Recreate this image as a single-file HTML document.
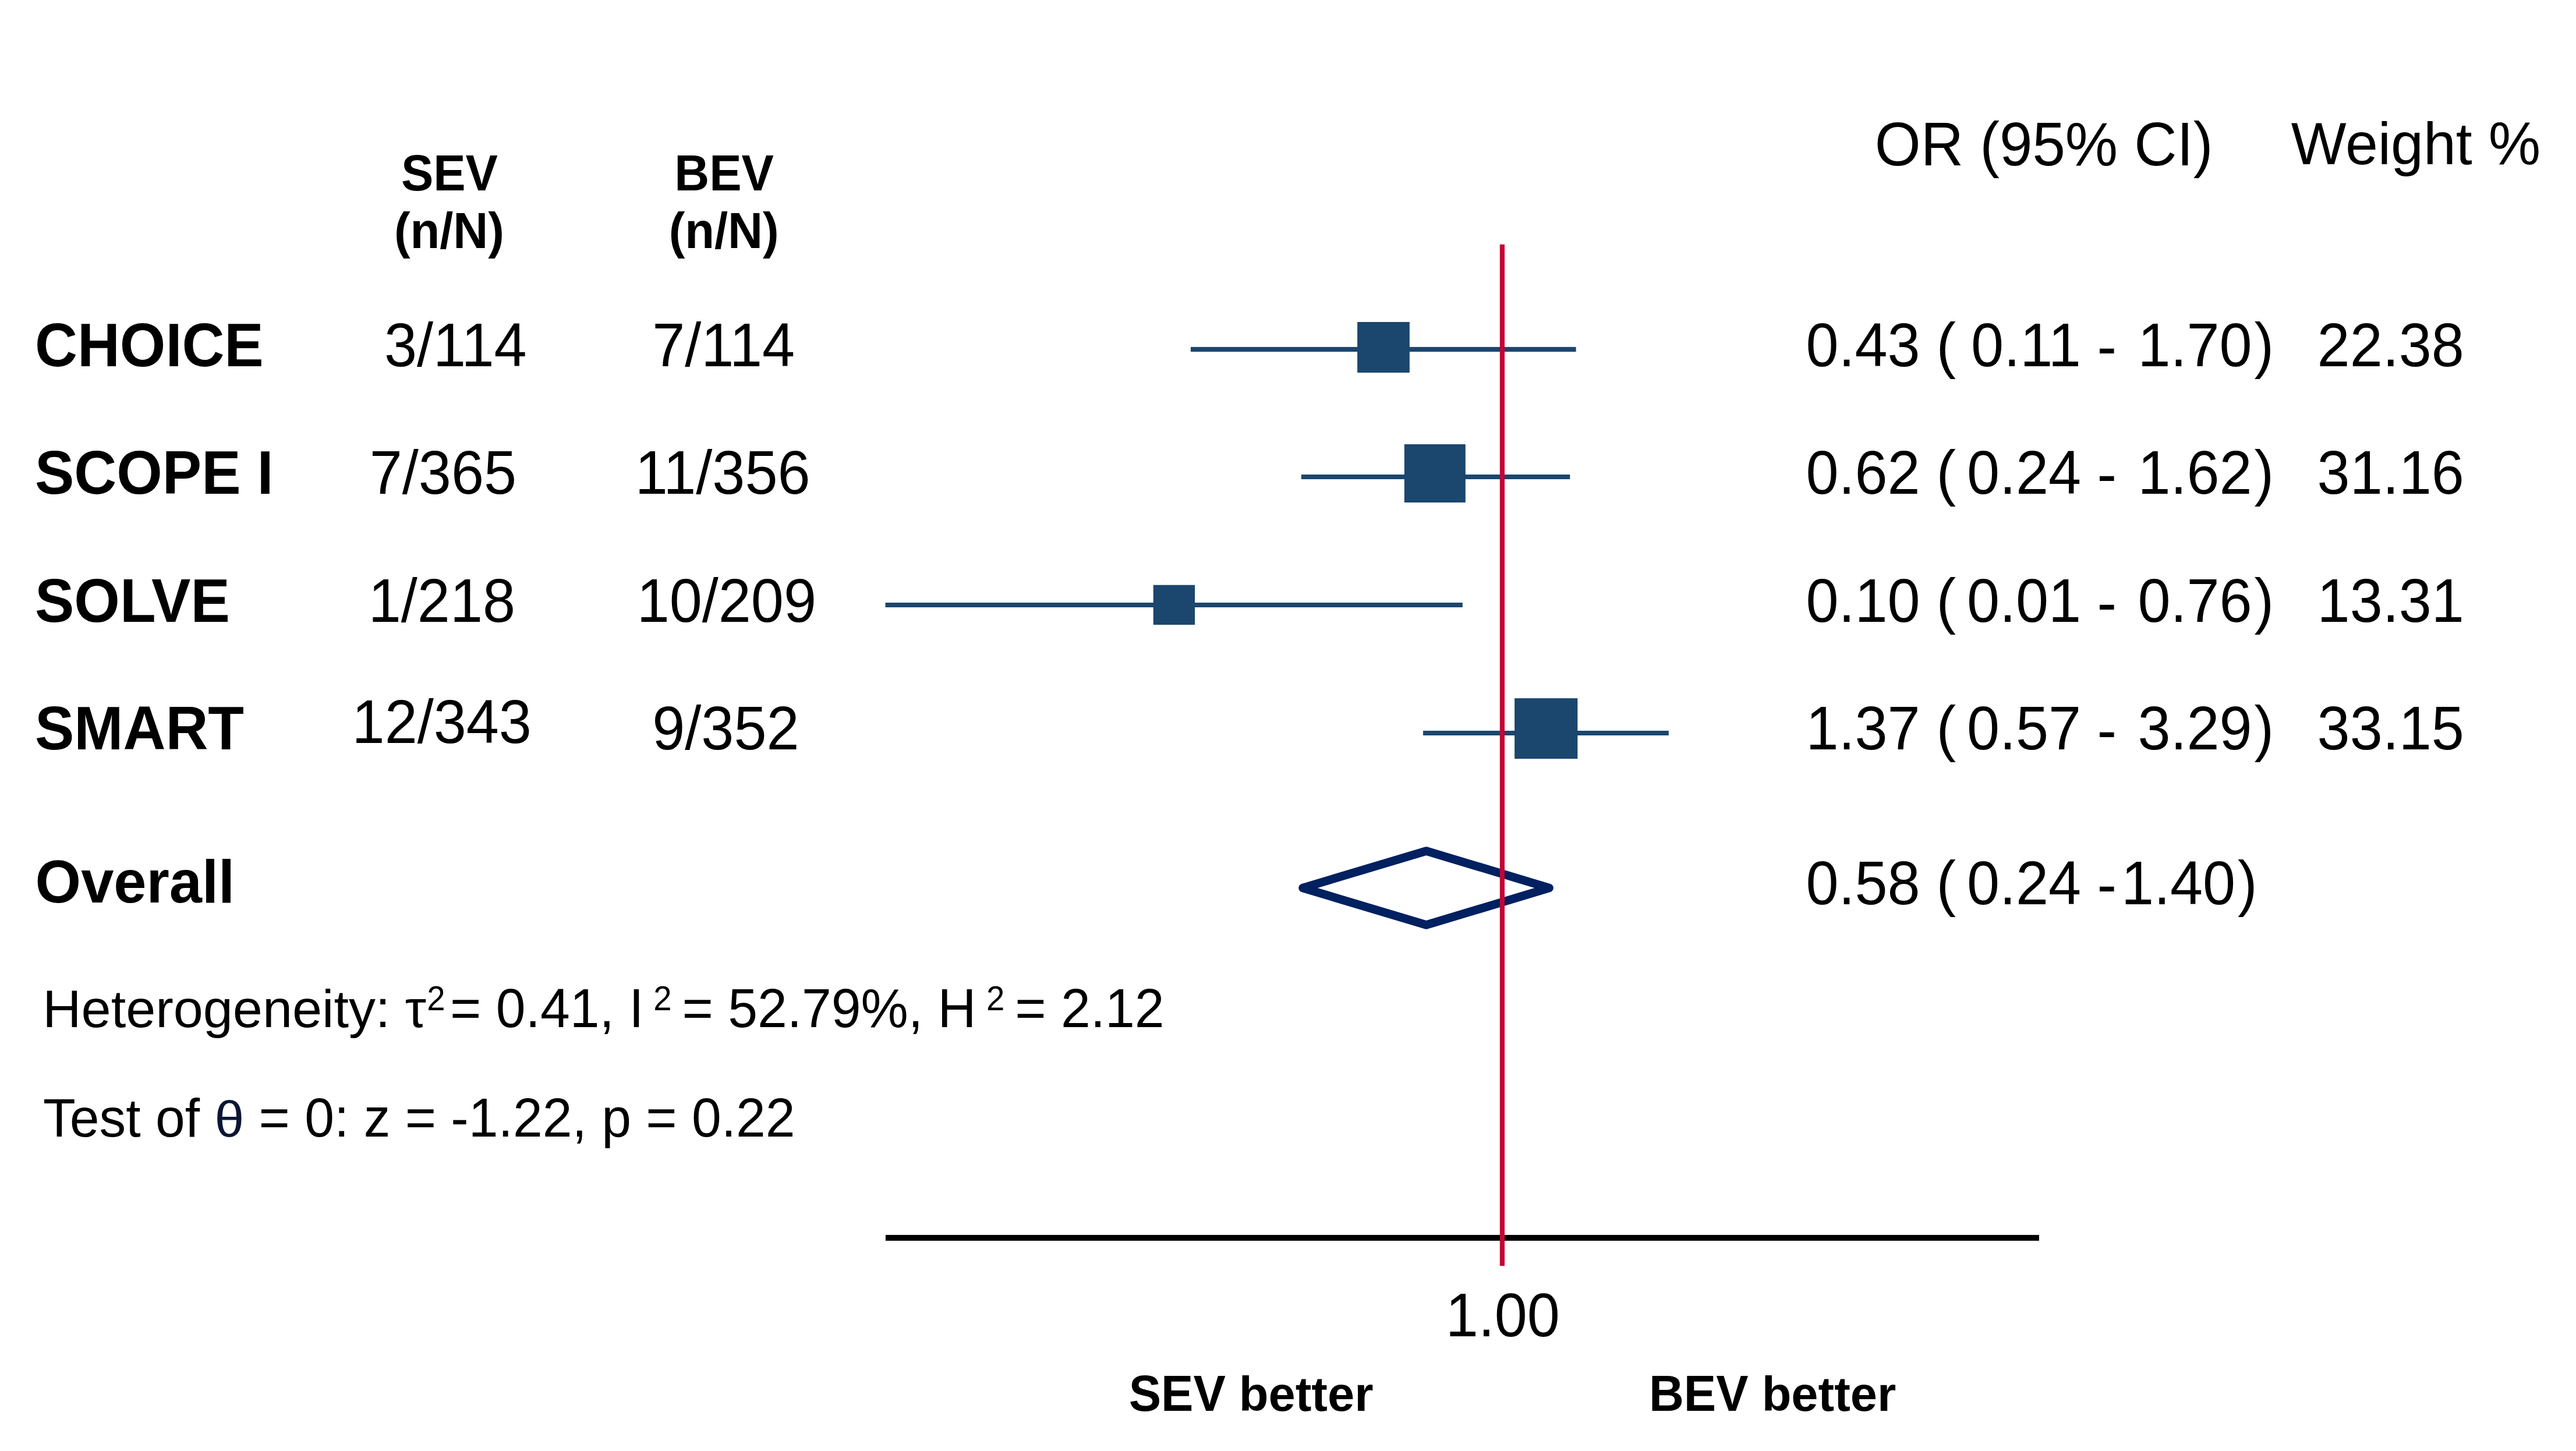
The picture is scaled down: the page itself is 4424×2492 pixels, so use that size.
<!DOCTYPE html>
<html lang="en">
<head>
<meta charset="utf-8">
<title>Forest plot: SEV vs BEV</title>
<style>
html,body{margin:0;padding:0;background:#fff;}
body{width:4424px;height:2492px;overflow:hidden;}
svg{display:block;}
text{font-family:"Liberation Sans",Arial,Helvetica,sans-serif;white-space:pre;fill:#000;}
</style>
</head>
<body>
<svg width="4424" height="2492" viewBox="0 0 4424 2492">
<rect x="0" y="0" width="4424" height="2492" fill="#ffffff"/>
<!-- confidence intervals and study weights -->
<rect x="2044.9" y="595.9" width="661.7" height="8.2" fill="#1b466e"/>
<rect x="2331.1" y="553.0" width="89.7" height="87.0" fill="#1b466e"/>
<rect x="2234.8" y="815.0" width="461.5" height="8.0" fill="#1b466e"/>
<rect x="2411.8" y="763.0" width="105.0" height="100.0" fill="#1b466e"/>
<rect x="1520.5" y="1035.0" width="991.3" height="8.0" fill="#1b466e"/>
<rect x="1980.7" y="1004.7" width="71.3" height="68.3" fill="#1b466e"/>
<rect x="2444.0" y="1255.0" width="421.8" height="8.0" fill="#1b466e"/>
<rect x="2601.1" y="1199.2" width="108.2" height="104.0" fill="#1b466e"/>
<!-- pooled estimate diamond -->
<polygon points="2237.5,1525 2449.5,1461.5 2660.5,1525 2449.5,1588.5" fill="none" stroke="#002060" stroke-width="14.6" stroke-linejoin="round"/>
<!-- axis and line of no effect -->
<rect x="1520.9" y="2120.9" width="1981" height="10" fill="#000"/>
<rect x="2575.8" y="419.8" width="8.2" height="1754.3" fill="#c30532"/>
<!-- text -->
<text transform="translate(688.89,327.3) scale(1,1.04)" font-size="83" font-weight="bold" xml:space="preserve">SEV</text>
<text transform="translate(676.93,426) scale(1,1.04)" font-size="83" font-weight="bold" xml:space="preserve">(n/N)</text>
<text transform="translate(1158.35,327.3) scale(1,1.04)" font-size="83" font-weight="bold" xml:space="preserve">BEV</text>
<text transform="translate(1148.68,426) scale(1,1.04)" font-size="83" font-weight="bold" xml:space="preserve">(n/N)</text>
<text transform="translate(3219.75,283.9) scale(1,1.04)" font-size="101.5" xml:space="preserve">OR (95% CI)</text>
<text transform="translate(3934.85,281.9) scale(1,1.02)" font-size="100.5" xml:space="preserve">Weight </text>
<text transform="translate(4273.74,281.9) scale(1,1.04)" font-size="100.5" xml:space="preserve">%</text>
<text transform="translate(60,628.8) scale(1,1.04)" font-size="101" font-weight="bold" xml:space="preserve">CHOICE</text>
<text transform="translate(60,848.3) scale(1,1.04)" font-size="101" font-weight="bold" xml:space="preserve">SCOPE I</text>
<text transform="translate(60,1068.3) scale(1,1.04)" font-size="101" font-weight="bold" xml:space="preserve">SOLVE</text>
<text transform="translate(60,1287.0) scale(1,1.04)" font-size="101" font-weight="bold" xml:space="preserve">SMART</text>
<text transform="translate(60.6,1549.5) scale(1,1.02)" font-size="101" font-weight="bold" xml:space="preserve">Overall</text>
<text transform="translate(659.9,628.8) scale(1,1.04)" font-size="100.8" xml:space="preserve">3/114</text>
<text transform="translate(1120.3,628.8) scale(1,1.04)" font-size="100.8" xml:space="preserve">7/114</text>
<text transform="translate(634.8,848.3) scale(1,1.04)" font-size="100.8" xml:space="preserve">7/365</text>
<text transform="translate(1090.7,848.3) scale(1,1.04)" font-size="100.8" xml:space="preserve">11/356</text>
<text transform="translate(632.8,1068.3) scale(1,1.04)" font-size="100.8" xml:space="preserve">1/218</text>
<text transform="translate(1093.7,1068.3) scale(1,1.04)" font-size="100.8" xml:space="preserve">10/209</text>
<text transform="translate(604.6,1276) scale(1,1.04)" font-size="100.8" xml:space="preserve">12/343</text>
<text transform="translate(1120.3,1286.8) scale(1,1.04)" font-size="100.8" xml:space="preserve">9/352</text>
<text transform="translate(3101.4,628.8) scale(1,1.04)" font-size="100.8" xml:space="preserve">0.43 (</text>
<text transform="translate(3385.1,628.8) scale(1,1.04)" font-size="100.8" xml:space="preserve">0.11</text>
<text transform="translate(3601.6,631.0999999999999) scale(1,1.04)" font-size="100.8" xml:space="preserve">-</text>
<text transform="translate(3671.5,628.8) scale(1,1.04)" font-size="100.8" xml:space="preserve">1.70</text>
<text transform="translate(3871.48,628.8) scale(1,1.04)" font-size="100.8" xml:space="preserve">)</text>
<text transform="translate(3979.6,628.8) scale(1,1.04)" font-size="100.8" xml:space="preserve">22.38</text>
<text transform="translate(3101.4,848.0) scale(1,1.04)" font-size="100.8" xml:space="preserve">0.62 (</text>
<text transform="translate(3377.9,848.0) scale(1,1.04)" font-size="100.8" xml:space="preserve">0.24</text>
<text transform="translate(3601.6,850.3) scale(1,1.04)" font-size="100.8" xml:space="preserve">-</text>
<text transform="translate(3671.5,848.0) scale(1,1.04)" font-size="100.8" xml:space="preserve">1.62</text>
<text transform="translate(3871.48,848.0) scale(1,1.04)" font-size="100.8" xml:space="preserve">)</text>
<text transform="translate(3979.6,848.0) scale(1,1.04)" font-size="100.8" xml:space="preserve">31.16</text>
<text transform="translate(3101.4,1068.2) scale(1,1.04)" font-size="100.8" xml:space="preserve">0.10 (</text>
<text transform="translate(3377.9,1068.2) scale(1,1.04)" font-size="100.8" xml:space="preserve">0.01</text>
<text transform="translate(3601.6,1070.5) scale(1,1.04)" font-size="100.8" xml:space="preserve">-</text>
<text transform="translate(3671.5,1068.2) scale(1,1.04)" font-size="100.8" xml:space="preserve">0.76</text>
<text transform="translate(3871.48,1068.2) scale(1,1.04)" font-size="100.8" xml:space="preserve">)</text>
<text transform="translate(3979.6,1068.2) scale(1,1.04)" font-size="100.8" xml:space="preserve">13.31</text>
<text transform="translate(3101.4,1287.2) scale(1,1.04)" font-size="100.8" xml:space="preserve">1.37 (</text>
<text transform="translate(3377.9,1287.2) scale(1,1.04)" font-size="100.8" xml:space="preserve">0.57</text>
<text transform="translate(3601.6,1289.5) scale(1,1.04)" font-size="100.8" xml:space="preserve">-</text>
<text transform="translate(3671.5,1287.2) scale(1,1.04)" font-size="100.8" xml:space="preserve">3.29</text>
<text transform="translate(3871.48,1287.2) scale(1,1.04)" font-size="100.8" xml:space="preserve">)</text>
<text transform="translate(3979.6,1287.2) scale(1,1.04)" font-size="100.8" xml:space="preserve">33.15</text>
<text transform="translate(3101.4,1552.9) scale(1,1.04)" font-size="100.8" xml:space="preserve">0.58 (</text>
<text transform="translate(3377.9,1552.9) scale(1,1.04)" font-size="100.8" xml:space="preserve">0.24</text>
<text transform="translate(3601.6,1555.2) scale(1,1.04)" font-size="100.8" xml:space="preserve">-</text>
<text transform="translate(3643,1552.9) scale(1,1.04)" font-size="100.8" xml:space="preserve">1.40</text>
<text transform="translate(3842.98,1552.9) scale(1,1.04)" font-size="100.8" xml:space="preserve">)</text>
<text transform="translate(2482.64,2295) scale(1,1.04)" font-size="100.8" xml:space="preserve">1.00</text>
<text transform="translate(1938.73,2422.6) scale(1,1.04)" font-size="83" font-weight="bold" xml:space="preserve">SEV </text>
<text transform="translate(2127.87,2422.6) scale(1,0.995)" font-size="83" font-weight="bold" xml:space="preserve">better</text>
<text transform="translate(2831.94,2422.5) scale(1,1.04)" font-size="83" font-weight="bold" xml:space="preserve">BEV </text>
<text transform="translate(3025.66,2422.5) scale(1,0.995)" font-size="83" font-weight="bold" xml:space="preserve">better</text>
<text transform="translate(73.3,1764) scale(1,0.995)" font-size="91.8" xml:space="preserve">Heterogeneity: τ</text>
<text transform="translate(733.2,1734.5) scale(1,1.04)" font-size="56.3" xml:space="preserve">2</text>
<text transform="translate(773.1,1764) scale(1,1.04)" font-size="91.3" xml:space="preserve">= 0.41, I</text>
<text transform="translate(1122.2,1734.5) scale(1,1.04)" font-size="56.3" xml:space="preserve">2</text>
<text transform="translate(1171.5,1764) scale(1,1.04)" font-size="91.3" xml:space="preserve">= 52.79%, H</text>
<text transform="translate(1694,1734.5) scale(1,1.04)" font-size="56.3" xml:space="preserve">2</text>
<text transform="translate(1743.3,1764) scale(1,1.04)" font-size="91.3" xml:space="preserve">= 2.12</text>
<text transform="translate(74.1,1951.5) scale(1,1.02)" font-size="91.3" xml:space="preserve">Test of </text>
<text transform="translate(368.41,1951.5) scale(1,0.96)" font-size="91.3" style="fill:#0a1633" xml:space="preserve">θ</text>
<text transform="translate(419.18,1951.5) scale(1,1.04)" font-size="91.3" xml:space="preserve"> = 0: z = -1.22, p = 0.22</text>
</svg>
</body>
</html>
